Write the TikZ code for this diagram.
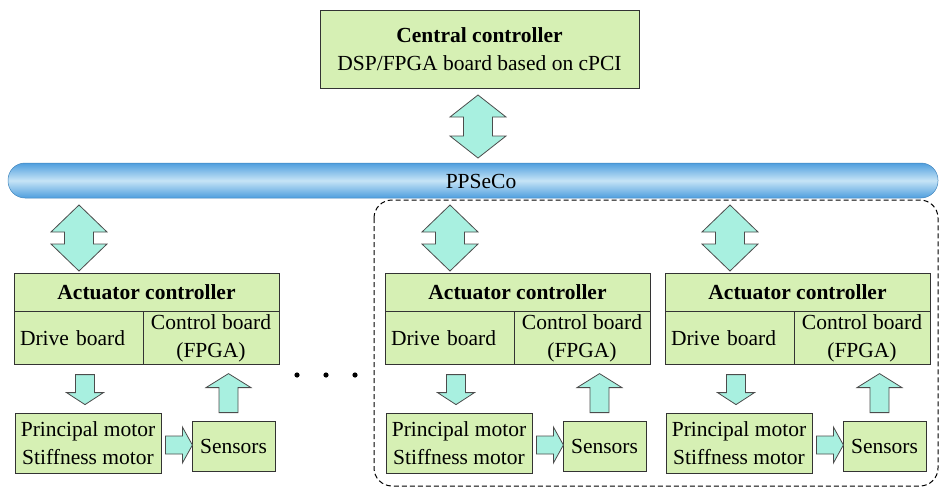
\documentclass[tikz,border=0pt]{standalone}
\usepackage{fontspec}
\setmainfont{Liberation Serif}
\usepackage{xcolor}
\usetikzlibrary{positioning,calc}
\definecolor{boxgreen}{RGB}{214,240,180}
\definecolor{arrowaqua}{RGB}{168,240,224}
\definecolor{busblue}{RGB}{78,158,222}
\definecolor{buslight}{RGB}{198,228,246}
\tikzset{
	every node/.style = {font=\fontsize{21.5}{28}\selectfont, inner sep = 0},
	block/.style = {draw=black!80, fill=boxgreen, line width=0.8},
	arrowstyle/.style = {draw=black!70, fill=arrowaqua, line width=0.8},
	busbar/.style = {draw=busblue!85!black, line width=0.5, rounded corners=17,
		top color=busblue, bottom color=busblue, middle color=buslight},
	pics/dblarr/.style 2 args = {code={
		\path[arrowstyle] (0,-#1/2) -- (28,-#1/2+#2) -- (14.5,-#1/2+#2) -- (14.5,#1/2-#2)
			-- (28,#1/2-#2) -- (0,#1/2) -- (-28,#1/2-#2) -- (-14.5,#1/2-#2)
			-- (-14.5,-#1/2+#2) -- (-28,-#1/2+#2) -- cycle;
	}},
	pics/blockarr/.style n args = {4}{code={
		\path[arrowstyle] (-#4,0) -- (#4,0) -- (#4,#1-#2) -- (#3,#1-#2) -- (0,#1)
			-- (-#3,#1-#2) -- (-#4,#1-#2) -- cycle;
	}}
}

\begin{document}
\begin{tikzpicture}[x=1pt,y=-1pt]
	\useasboundingbox (0,0) rectangle (940,487);

	% central controller and bus
	\node[block, minimum width=319, minimum height=78, align=center] (central) at (479.5,49) {\textbf{Central controller}\\DSP/FPGA board based on cPCI};
	\node[busbar, minimum width=930, minimum height=35] (bus) at (473,180.5) {};
	\node (buslabel) at (481,181) {PPSeCo};
	\pic at (478,126.5) {dblarr={63}{22}};

	% group of the two actuators
	\draw[line width=1, dashed, dash pattern=on 5pt off 3pt, rounded corners=18] (374,200) rectangle (938,486);

	\foreach \x/\n in {14/a,385/b,665/c}{
		\node[block, minimum width=265, minimum height=38] (act\n) at (\x+132.5,292) {\textbf{Actuator controller}};
		\node[block, minimum width=129, minimum height=53, anchor=north west, text width=117, align=left] (drv\n) at (act\n.south west) {Drive board};
		\node[block, minimum width=136, minimum height=53, anchor=north east, align=center] (ctl\n) at (act\n.south east) {Control board\\(FPGA)};
		\node[block, minimum width=146, minimum height=60, align=center] (prm\n) at (\x+74,443) {Principal motor\\Stiffness motor};
		\node[block, minimum width=83, minimum height=50] (sns\n) at (\x+219.5,446) {Sensors};

		\pic at (\x+65,238) {dblarr={66}{27}};
		\pic at ([xshift=-3,yshift=38]prm\n.north) {blockarr={30}{12}{18.5}{9.5}};
		\pic[rotate=180] at ([xshift=-5,yshift=8]sns\n.north) {blockarr={39}{14}{22.5}{9.5}};
		\pic[rotate=90] at ([xshift=4,yshift=-2]prm\n.east) {blockarr={27}{10}{18}{9}};
	}

	% dots between the groups
	\foreach \d in {297,326,355}
		\fill (\d,375) circle[radius=2.6pt];
\end{tikzpicture}
\end{document}
